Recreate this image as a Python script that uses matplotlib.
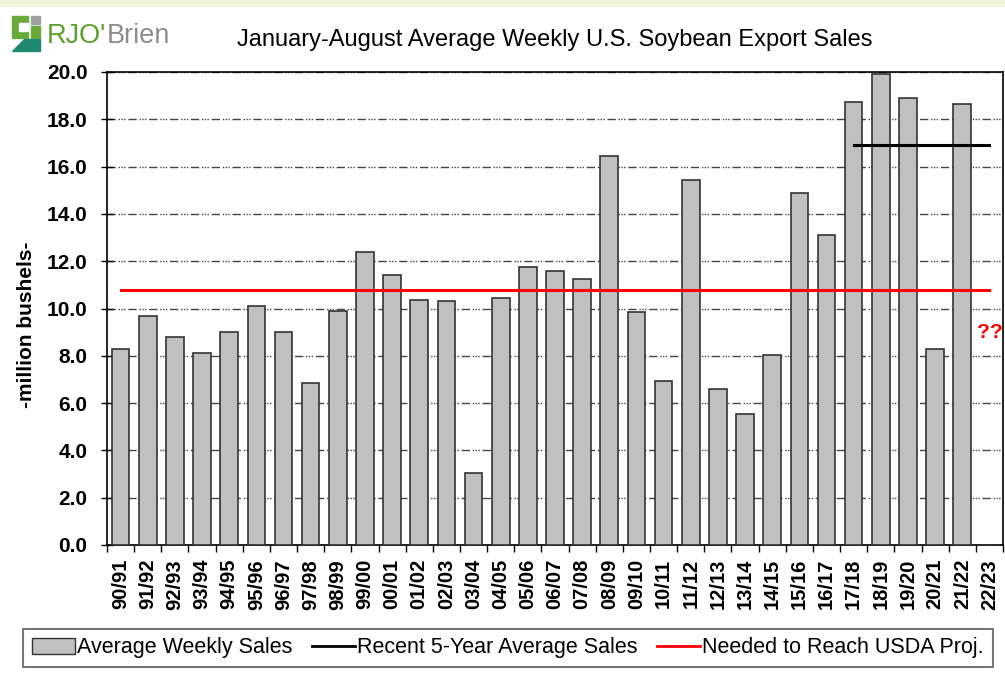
import matplotlib.pyplot as plt
import matplotlib.patches as mpatches
from matplotlib.lines import Line2D

plt.rcParams['font.family'] = ['Liberation Sans', 'DejaVu Sans']

seasons = ["90/91", "91/92", "92/93", "93/94", "94/95", "95/96", "96/97", "97/98",
           "98/99", "99/00", "00/01", "01/02", "02/03", "03/04", "04/05", "05/06",
           "06/07", "07/08", "08/09", "09/10", "10/11", "11/12", "12/13", "13/14",
           "14/15", "15/16", "16/17", "17/18", "18/19", "19/20", "20/21", "21/22", "22/23"]
weekly_sales = [8.3, 9.7, 8.8, 8.1, 9.0, 10.1, 9.0, 6.85, 9.9, 12.4, 11.4, 10.35,
                10.3, 3.05, 10.45, 11.75, 11.6, 11.25, 16.45, 9.85, 6.95, 15.45,
                6.6, 5.55, 8.05, 14.9, 13.1, 18.75, 19.9, 18.9, 8.3, 18.65, None]
five_year_avg = 16.9
five_year_from = "17/18"
needed_usda = 10.8

W, H = 1005, 686
fig = plt.figure(figsize=(W / 100, H / 100), dpi=100)
fig.patches.append(mpatches.Rectangle((0, 1 - 6 / H), 1, 6 / H, transform=fig.transFigure,
                                      color="#eef3dc", zorder=0))
ax = fig.add_axes([107 / W, 1 - 545 / H, 896 / W, 473 / H])

x = list(range(len(seasons)))
vals = [v if v is not None else 0 for v in weekly_sales]
ax.bar(x, vals, width=0.65, color="#c0c0c0", edgecolor="#333333", linewidth=1.2, zorder=3)

i0 = seasons.index(five_year_from)
ax.plot([i0, len(seasons) - 1], [five_year_avg] * 2, color="black", lw=2.2, zorder=4)
ax.plot([0, len(seasons) - 1], [needed_usda] * 2, color="#ff0000", lw=2.2, zorder=4)
ax.text(len(seasons) - 1, 9.0, "??", color="#ff0000", fontsize=15, fontweight="bold",
        ha="center", va="center")

ax.set_xlim(-0.5, len(seasons) - 0.5)
ax.set_ylim(0, 20)
ax.set_yticks([i * 2 for i in range(11)])
ax.set_yticklabels([f"{i * 2:.1f}" for i in range(11)], fontsize=15, fontweight="bold")
ax.set_xticks(x)
ax.set_xticklabels(seasons, rotation=90, fontsize=14.5, fontweight="bold")
ax.set_xticks([i - 0.5 for i in range(len(seasons) + 1)], minor=True)
ax.tick_params(axis="x", which="major", length=0, pad=10)
ax.tick_params(axis="x", which="minor", length=5, direction="out", width=1)
ax.tick_params(axis="y", length=8, direction="inout", width=1, pad=10)
ax.set_ylabel("-million bushels-", fontsize=15, fontweight="bold")
ax.yaxis.set_label_coords((36 - 107) / 896, (545 - 325) / 473)

ax.yaxis.grid(True, color="#444444", lw=1, linestyle=(0, (6, 2, 1, 1, 1, 1, 1, 2)), zorder=1)
ax.set_axisbelow(True)
for s in ax.spines.values():
    s.set_linewidth(1.2)

fig.text(555 / W, 1 - 40 / H, "January-August Average Weekly U.S. Soybean Export Sales",
         ha="center", va="center", fontsize=17)

# logo
def box(x0, y0, x1, y1, c):
    fig.patches.append(mpatches.Rectangle((x0 / W, 1 - y1 / H), (x1 - x0) / W, (y1 - y0) / H,
                                          transform=fig.transFigure, color=c))

box(12, 16, 28, 38, "#6aaa3a")
box(19, 23, 28, 31, "white")
box(31, 16, 40, 24, "#a0a0a0")
box(31, 26, 40, 38, "#6aaa3a")
fig.patches.append(mpatches.Polygon([(12 / W, 1 - 51 / H), (40 / W, 1 - 51 / H),
                                     (40 / W, 1 - 39 / H), (24 / W, 1 - 39 / H)],
                                    closed=True, transform=fig.transFigure, color="#1f8a70"))
t1 = fig.text(47 / W, 1 - 36 / H, "RJO'", color="#5aa02c", fontsize=19.5, va="center")
fig.canvas.draw()
bb = t1.get_window_extent()
fig.text(bb.x1 / W, 1 - 36 / H, "Brien", color="#8c8c8c", fontsize=19.5, va="center")

handles = [mpatches.Patch(facecolor="#c0c0c0", edgecolor="#333333", label="Average Weekly Sales"),
           Line2D([], [], color="black", lw=2, label="Recent 5-Year Average Sales"),
           Line2D([], [], color="#ff0000", lw=2, label="Needed to Reach USDA Proj.")]
leg = fig.legend(handles=handles, loc="center", bbox_to_anchor=(508 / W, 1 - 648 / H),
                 ncol=3, fontsize=15.5, frameon=True, fancybox=False,
                 edgecolor="#555555", handlelength=2.0, handletextpad=0.1,
                 columnspacing=0.9, borderpad=0.4)
leg.get_frame().set_linewidth(1.5)

fig.savefig("out.png", dpi=100)
